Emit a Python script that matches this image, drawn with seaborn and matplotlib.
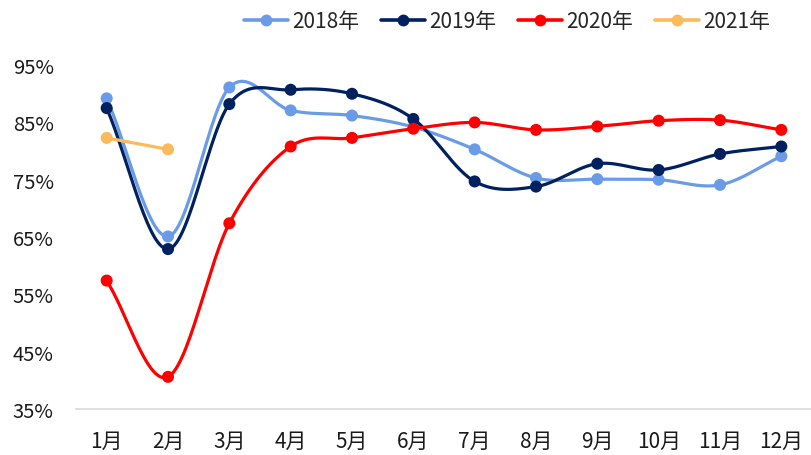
import numpy as np
import pandas as pd
import matplotlib
matplotlib.use("Agg")
import matplotlib.pyplot as plt
from matplotlib.lines import Line2D
from matplotlib.ticker import FuncFormatter
import seaborn as sns

# data (percent)
months = ["1月", "2月", "3月", "4月", "5月", "6月", "7月", "8月", "9月", "10月", "11月", "12月"]
years = ["2018年", "2019年", "2020年", "2021年"]
rate_2018 = [89.2, 65.1, 91.1, 87.1, 86.2, 84.2, 80.3, 75.3, 75.1, 75.0, 74.1, 79.1]
rate_2019 = [87.5, 62.9, 88.2, 90.7, 90.0, 85.6, 74.7, 73.8, 77.8, 76.7, 79.5, 80.8]
rate_2020 = [57.4, 40.6, 67.4, 80.8, 82.3, 83.9, 85.0, 83.7, 84.3, 85.3, 85.4, 83.7]
rate_2021 = [82.3, 80.3]
colors = ["#6A9BE6", "#002060", "#FF0000", "#FDBA5C"]


def smooth(x, y, n=30):
    """Catmull-Rom curve through the points, like Excel's smoothed line"""
    x = np.asarray(x, float)
    y = np.asarray(y, float)
    if len(x) < 3:
        return x, y
    xs, ys = [], []
    for i in range(len(x) - 1):
        p0 = i - 1 if i > 0 else i
        p3 = i + 2 if i + 2 < len(x) else i + 1
        mx1 = (x[i + 1] - x[p0]) / 2 * (1 if i > 0 else 2)
        my1 = (y[i + 1] - y[p0]) / 2 * (1 if i > 0 else 2)
        mx2 = (x[p3] - x[i]) / 2 * (1 if i + 2 < len(x) else 2)
        my2 = (y[p3] - y[i]) / 2 * (1 if i + 2 < len(x) else 2)
        t = np.linspace(0, 1, n, endpoint=False)
        h00 = 2 * t**3 - 3 * t**2 + 1
        h10 = t**3 - 2 * t**2 + t
        h01 = -2 * t**3 + 3 * t**2
        h11 = t**3 - t**2
        xs.append(h00 * x[i] + h10 * mx1 + h01 * x[i + 1] + h11 * mx2)
        ys.append(h00 * y[i] + h10 * my1 + h01 * y[i + 1] + h11 * my2)
    xs.append([x[-1]])
    ys.append([y[-1]])
    return np.concatenate(xs), np.concatenate(ys)


sns.set_theme(style="white")
plt.rcParams["font.family"] = ["Noto Sans CJK SC", "DejaVu Sans"]

fig = plt.figure(figsize=(8.12, 4.56), dpi=100)
ax = fig.add_axes([0.0936, 0.101, 0.9064, 0.754])

series = [rate_2018, rate_2019, rate_2020, rate_2021]
points = pd.DataFrame(
    [(yr, i + 1, v) for yr, vals in zip(years, series) for i, v in enumerate(vals)],
    columns=["year", "month", "rate"],
)

curves = []
for yr, vals in zip(years, series):
    sx, sy = smooth(np.arange(1, len(vals) + 1), vals)
    curves.append(pd.DataFrame({"year": yr, "x": sx, "y": sy}))
curves = pd.concat(curves, ignore_index=True)

for k, yr in enumerate(years):
    c = curves[curves["year"] == yr]
    sns.lineplot(data=c, x="x", y="y", color=colors[k], linewidth=2.3,
                 sort=False, estimator=None, ax=ax, zorder=2 + k, clip_on=False)
    p = points[points["year"] == yr]
    sns.scatterplot(data=p, x="month", y="rate", color=colors[k], s=75,
                    edgecolor="none", ax=ax, zorder=2.5 + k, clip_on=False)

ax.set_xlim(0.5, 12.5)
ax.set_ylim(35, 95)
ax.set_xticks(range(1, 13))
ax.set_xticklabels(months)
ax.set_yticks(range(35, 96, 10))
ax.yaxis.set_major_formatter(FuncFormatter(lambda v, _: f"{v:.0f}%"))
ax.set_xlabel("")
ax.set_ylabel("")
ax.tick_params(axis="x", length=0, pad=15, labelsize=15, colors="#1a1a1a")
ax.tick_params(axis="y", length=0, pad=16, labelsize=14.5, colors="#1a1a1a")
for side in ["top", "right", "left"]:
    ax.spines[side].set_visible(False)
ax.spines["bottom"].set_color("#D9D9D9")
ax.spines["bottom"].set_linewidth(1.2)

handles = [Line2D([0], [0], color=c, linewidth=2.6, marker="o", markersize=7.5)
           for c in colors]
fig.legend(handles, years, loc="center right", bbox_to_anchor=(0.948, 0.952),
           ncol=4, frameon=False, fontsize=15, handlelength=2.1,
           handletextpad=0.2, columnspacing=1.05, borderpad=0, borderaxespad=0)

fig.savefig("out.png", dpi=100)
